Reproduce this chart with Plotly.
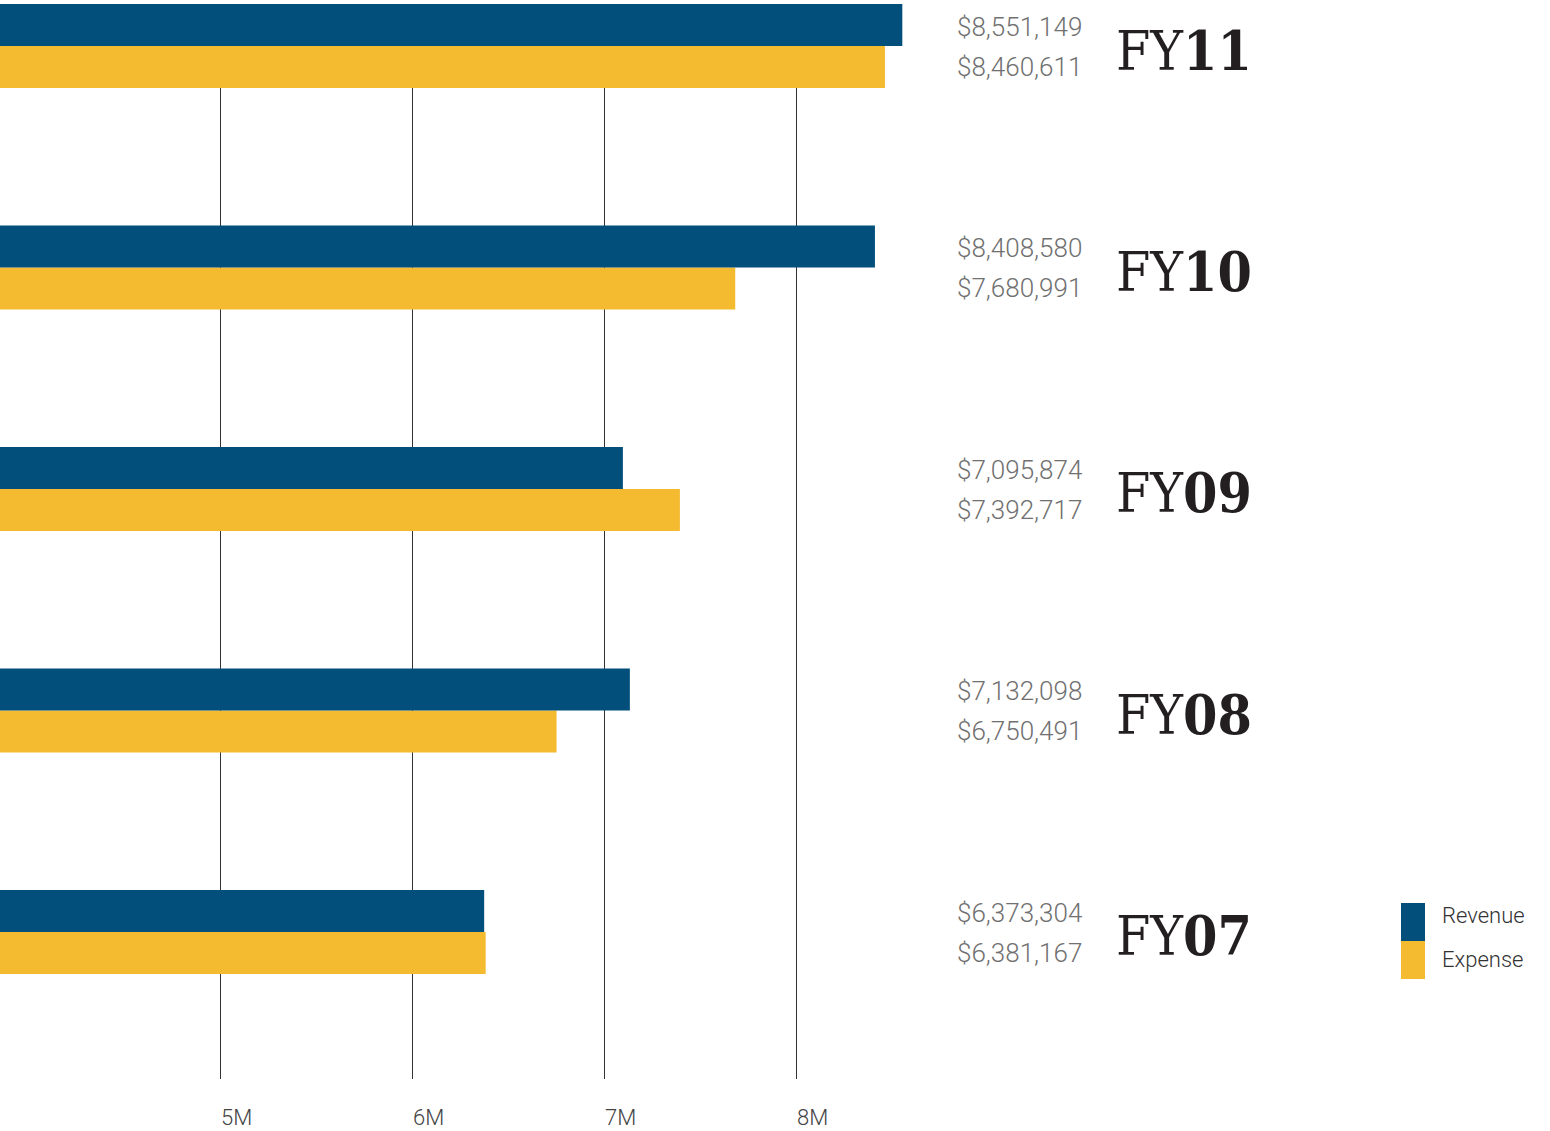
import plotly.graph_objects as go

# ---- data ----
years = ["FY07", "FY08", "FY09", "FY10", "FY11"]
year_digits = ["07", "08", "09", "10", "11"]
revenue = [6373304, 7132098, 7095874, 8408580, 8551149]
expense = [6381167, 6750491, 7392717, 7680991, 8460611]
tick_vals = [5e6, 6e6, 7e6, 8e6]
tick_text = ["5M", "6M", "7M", "8M"]
series_names = ["Revenue", "Expense"]

BLUE = "#024f7c"
GOLD = "#f4ba30"
W, H = 1550, 1131
M_T, M_B = 4, 52
PH = H - M_T - M_B


def px_x(p):
    return p / W


def px_y(p):
    return (H - M_B - p) / PH


fig = go.Figure()
fig.add_trace(go.Bar(y=years, x=expense, orientation="h", name=series_names[1],
                     marker=dict(color=GOLD, line=dict(width=0))))
fig.add_trace(go.Bar(y=years, x=revenue, orientation="h", name=series_names[0],
                     marker=dict(color=BLUE, line=dict(width=0))))

VAL_FONT = dict(family="Roboto", size=26, color="#707070", weight=300)
ann = []
for y, d, r, e in zip(years, year_digits, revenue, expense):
    ann.append(dict(x=px_x(1084), xref="paper", y=y, yref="y", xanchor="right", yanchor="middle",
                    yshift=19, text=f"${r:,.0f}", showarrow=False, font=VAL_FONT))
    ann.append(dict(x=px_x(1084), xref="paper", y=y, yref="y", xanchor="right", yanchor="middle",
                    yshift=-21, text=f"${e:,.0f}", showarrow=False, font=VAL_FONT))
    ann.append(dict(x=px_x(1114), xref="paper", y=y, yref="y", xanchor="left", yanchor="middle",
                    yshift=-4, showarrow=False,
                    text=f"FY<b>{d}</b>",
                    font=dict(family="DejaVu Serif Condensed, DejaVu Serif", size=55, color="#231f20")))

for v, t in zip(tick_vals, tick_text):
    ann.append(dict(x=v, xref="x", y=0, yref="paper", xanchor="left", yanchor="middle",
                    yshift=-38, xshift=-1, text=t, showarrow=False,
                    font=dict(family="Roboto", size=22, color="#444444", weight=300)))

# legend
shapes = [
    dict(type="rect", xref="paper", yref="paper", x0=px_x(1401), x1=px_x(1425),
         y0=px_y(941), y1=px_y(903), fillcolor=BLUE, line=dict(width=0)),
    dict(type="rect", xref="paper", yref="paper", x0=px_x(1401), x1=px_x(1425),
         y0=px_y(979), y1=px_y(941), fillcolor=GOLD, line=dict(width=0)),
]
for name, py in zip(series_names, [915, 959]):
    ann.append(dict(x=px_x(1440), xref="paper", y=px_y(py), yref="paper", xanchor="left",
                    yanchor="middle", text=name, showarrow=False,
                    font=dict(family="Roboto", size=22, color="#333333", weight=300)))

x0 = 3851600
fig.update_layout(
    width=W, height=H,
    margin=dict(l=0, r=0, t=M_T, b=M_B, pad=0),
    paper_bgcolor="white", plot_bgcolor="white",
    barmode="group", bargap=0.621, bargroupgap=0,
    showlegend=False,
    xaxis=dict(range=[x0, x0 + W / 192 * 1e6], tickvals=tick_vals, showticklabels=False,
               showgrid=True, gridcolor="#333333", gridwidth=1, zeroline=False,
               showline=False, ticks="", fixedrange=True),
    yaxis=dict(type="category", categoryorder="array", categoryarray=years,
               range=[-0.6637, 4.1896], showticklabels=False, showgrid=False,
               zeroline=False, showline=False, ticks="", fixedrange=True),
    annotations=ann, shapes=shapes,
)

fig.write_html(
    "out.html",
    config={"displayModeBar": False},
    post_script="document.body.style.margin='0';document.body.style.overflow='hidden';",
)
